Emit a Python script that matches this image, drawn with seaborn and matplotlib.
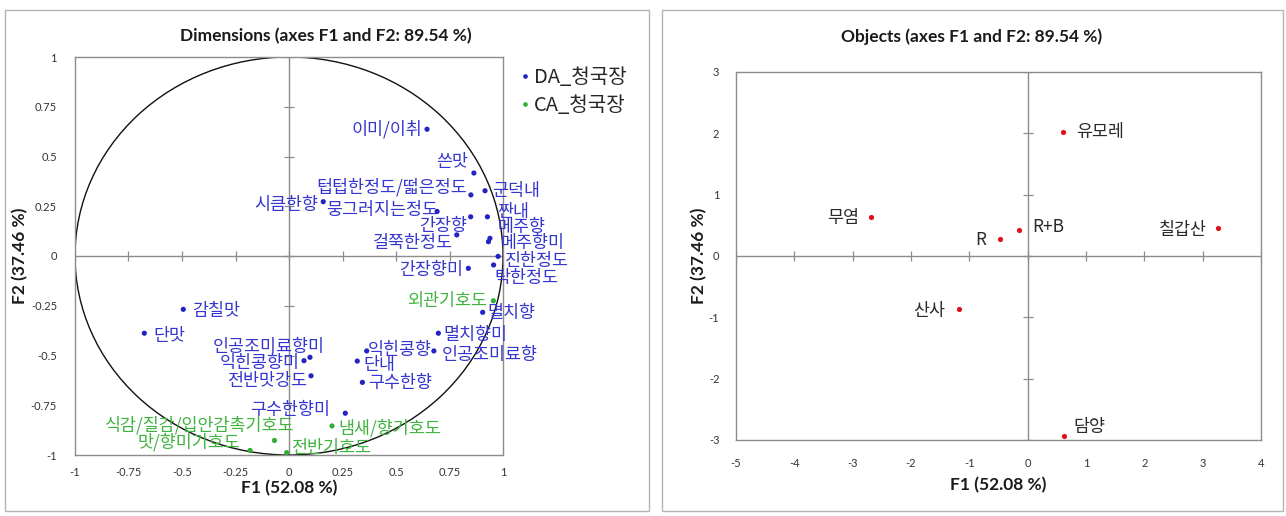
import matplotlib
matplotlib.use("Agg")
import matplotlib.pyplot as plt
from matplotlib.patches import Circle, Rectangle
import seaborn as sns
import pandas as pd

sns.set_theme(style="white")
plt.rcParams['font.family'] = ['Lato', 'Noto Sans CJK KR', 'DejaVu Sans']
plt.rcParams['axes.unicode_minus'] = False

# ---- variables (correlation circle) ----
da_names = ['이미/이취', '쓴맛', '텁텁한정도/떫은정도', '군덕내', '시큼한향', '뭉그러지는정도',
            '간장향', '짠내', '메주향', '걸쭉한정도', '메주향미', '진한정도', '간장향미',
            '탁한정도', '멸치향', '멸치향미', '익힌콩향', '인공조미료향', '단내', '구수한향',
            '감칠맛', '단맛', '인공조미료향미', '익힌콩향미', '전반맛강도', '구수한향미']
da_f1 = [0.645, 0.864, 0.850, 0.916, 0.160, 0.692, 0.849, 0.927, 0.939, 0.784, 0.932,
         0.977, 0.838, 0.956, 0.905, 0.698, 0.363, 0.677, 0.319, 0.343, -0.494, -0.676,
         0.098, 0.070, 0.103, 0.263]
da_f2 = [0.637, 0.417, 0.307, 0.328, 0.273, 0.224, 0.197, 0.197, 0.089, 0.106, 0.072,
         -0.002, -0.062, -0.045, -0.283, -0.388, -0.477, -0.477, -0.528, -0.635, -0.268,
         -0.388, -0.509, -0.526, -0.602, -0.790]

ca_names = ['외관기호도', '냄새/향기호도', '식감/질감/입안감촉기호도', '맛/향미기호도', '전반기호도']
ca_f1 = [0.955, 0.201, -0.068, -0.182, -0.011]
ca_f2 = [-0.225, -0.854, -0.927, -0.977, -0.988]

group_names = ['DA_청국장', 'CA_청국장']

# ---- objects (samples) ----
obj_names = ['유모레', '무염', 'R+B', 'R', '칠갑산', '산사', '담양']
obj_f1 = [0.60, -2.69, -0.15, -0.47, 3.26, -1.18, 0.62]
obj_f2 = [2.02, 0.63, 0.42, 0.28, 0.46, -0.87, -2.94]

# ---- axes ticks ----
var_ticks = [-1, -0.75, -0.5, -0.25, 0, 0.25, 0.5, 0.75, 1]
var_tick_labels = ['-1', '-0.75', '-0.5', '-0.25', '0', '0.25', '0.5', '0.75', '1']
obj_xticks = [-5, -4, -3, -2, -1, 0, 1, 2, 3, 4]
obj_xtick_labels = ['-5', '-4', '-3', '-2', '-1', '0', '1', '2', '3', '4']
obj_yticks = [-3, -2, -1, 0, 1, 2, 3]
obj_ytick_labels = ['-3', '-2', '-1', '0', '1', '2', '3']

title_vars = 'Dimensions (axes F1 and F2: 89.54 %)'
title_objs = 'Objects (axes F1 and F2: 89.54 %)'
xlabel = 'F1 (52.08 %)'
ylabel = 'F2 (37.46 %)'

# label placement: (dx px, dy px, horizontal alignment)
var_label_pos = {
    '이미/이취': (-5, 0, 'right'), '쓴맛': (-6, 11, 'right'),
    '텁텁한정도/떫은정도': (-4, 8, 'right'), '군덕내': (7, 0, 'left'),
    '시큼한향': (-5, -3, 'right'), '뭉그러지는정도': (1, 1, 'right'),
    '간장향': (-4, -9, 'right'), '짠내': (10, 5, 'left'),
    '메주향': (8, 11, 'left'), '걸쭉한정도': (-4, -8, 'right'),
    '메주향미': (12, -1, 'left'), '진한정도': (7, -5, 'left'),
    '간장향미': (-5, -2, 'right'), '탁한정도': (1, -13, 'left'),
    '멸치향': (5, -1, 'left'), '멸치향미': (5, -2, 'left'),
    '익힌콩향': (1, 1, 'left'), '인공조미료향': (8, -4, 'left'),
    '단내': (6, -4, 'left'), '구수한향': (6, -1, 'left'),
    '감칠맛': (9, -2, 'left'), '단맛': (9, -3, 'left'),
    '인공조미료향미': (15, 10, 'right'), '익힌콩향미': (-4, -2, 'right'),
    '전반맛강도': (-4, -5, 'right'), '구수한향미': (-15, 3, 'right'),
    '외관기호도': (-6, 0, 'right'), '냄새/향기호도': (6, -2, 'left'),
    '식감/질감/입안감촉기호도': (19, 15, 'right'), '맛/향미기호도': (-10, 8, 'right'),
    '전반기호도': (4, 5, 'left'),
}
obj_label_pos = {
    '유모레': (13, 0, 'left'), '무염': (-12, -1, 'right'), 'R+B': (13, 3, 'left'),
    'R': (-14, -1, 'right'), '칠갑산': (-11, -2, 'right'), '산사': (-14, -2, 'right'),
    '담양': (10, 9, 'left'),
}

BLUE = '#2323c4'
BLUE_TXT = '#3535cf'
GREEN = '#33ad33'
GREEN_TXT = '#3fb43f'
RED = '#e0101a'
AXIS_GRAY = '#8c8c8c'
KR = ['Noto Sans CJK KR', 'DejaVu Sans']
LABEL_SIZE = 12.5
PT = 0.72  # points per pixel at 100 dpi

W, H = 1286, 516
fig = plt.figure(figsize=(W / 100, H / 100), dpi=100)


def add_axes_px(left, top, right, bottom):
    return fig.add_axes([left / W, 1 - bottom / H, (right - left) / W, (bottom - top) / H])


def panel_frame(left, top, right, bottom):
    fig.patches.append(Rectangle((left / W, 1 - bottom / H), (right - left) / W,
                                 (bottom - top) / H, transform=fig.transFigure,
                                 fill=False, ec='#b4b4b4', lw=1.0))


def style_axes(ax, xt, xtl, yt, ytl, xpad, ypad):
    ax.set_xticks(xt, xtl)
    ax.set_yticks(yt, ytl)
    ax.tick_params(length=0, labelsize=8, colors='#333333')
    ax.tick_params(axis='x', pad=xpad)
    ax.tick_params(axis='y', pad=ypad)
    for s in ax.spines.values():
        s.set_color(AXIS_GRAY)
        s.set_linewidth(1.0)
    ax.grid(False)
    ax.axhline(0, color=AXIS_GRAY, lw=1.0, zorder=1)
    ax.axvline(0, color=AXIS_GRAY, lw=1.0, zorder=1)
    # cross ticks along the zero lines
    ax.plot(xt, [0] * len(xt), ls='none', marker='|', ms=7, mew=0.9, color=AXIS_GRAY, zorder=1)
    ax.plot([0] * len(yt), yt, ls='none', marker='_', ms=7, mew=0.9, color=AXIS_GRAY, zorder=1)
    ax.set_xlabel('')
    ax.set_ylabel('')


# ---------------- left panel: variables ----------------
panel_frame(5, 10, 649, 511)
ax1 = add_axes_px(75, 57, 503, 455)
ax1.set_xlim(-1, 1)
ax1.set_ylim(-1, 1)

vars_df = pd.DataFrame({
    'name': da_names + ca_names,
    'F1': da_f1 + ca_f1,
    'F2': da_f2 + ca_f2,
    'group': [group_names[0]] * len(da_names) + [group_names[1]] * len(ca_names),
})
ax1.add_patch(Circle((0, 0), 1, fill=False, ec='#111111', lw=1.0, zorder=2))
sns.scatterplot(data=vars_df, x='F1', y='F2', hue='group', hue_order=group_names,
                palette={group_names[0]: BLUE, group_names[1]: GREEN},
                s=14, linewidth=0, ax=ax1, zorder=4)
style_axes(ax1, var_ticks, var_tick_labels, var_ticks, var_tick_labels, 9, 13)

for _, row in vars_df.iterrows():
    dx, dy, ha = var_label_pos[row['name']]
    col = BLUE_TXT if row['group'] == group_names[0] else GREEN_TXT
    ax1.annotate(row['name'], (row['F1'], row['F2']), xytext=(dx * PT, dy * PT),
                 textcoords='offset points', ha=ha, va='center', color=col,
                 fontsize=LABEL_SIZE, family=KR, zorder=5)

handles, labels = ax1.get_legend_handles_labels()
ax1.legend(handles, labels, loc='upper left', bbox_to_anchor=(509 / W, 1 - 59 / H),
           bbox_transform=fig.transFigure, frameon=False,
           prop={'family': KR, 'size': 14.5}, handletextpad=0.05, labelspacing=0.35,
           handlelength=0.8, markerscale=0.9, borderaxespad=0)

ax1.set_title('')
fig.text(326 / W, 1 - 36 / H, title_vars, ha='center', va='center',
         fontsize=12.5, fontweight='bold', color='#1a1a1a')
ax1.text(0.5, -0.083, xlabel, transform=ax1.transAxes, ha='center', va='center',
         fontsize=12.5, fontweight='bold', color='#1a1a1a')
ax1.text(-0.128, 0.5, ylabel, transform=ax1.transAxes, ha='center', va='center',
         rotation=90, fontsize=12.5, fontweight='bold', color='#1a1a1a')

# ---------------- right panel: objects ----------------
panel_frame(662, 10, 1283, 511)
ax2 = add_axes_px(736, 72, 1261, 440)
ax2.set_xlim(-5, 4)
ax2.set_ylim(-3, 3)

obj_df = pd.DataFrame({'name': obj_names, 'F1': obj_f1, 'F2': obj_f2})
sns.scatterplot(data=obj_df, x='F1', y='F2', color=RED, s=14, linewidth=0,
                ax=ax2, zorder=4, legend=False)
style_axes(ax2, obj_xticks, obj_xtick_labels, obj_yticks, obj_ytick_labels, 13, 12)

for _, row in obj_df.iterrows():
    dx, dy, ha = obj_label_pos[row['name']]
    ax2.annotate(row['name'], (row['F1'], row['F2']), xytext=(dx * PT, dy * PT),
                 textcoords='offset points', ha=ha, va='center', color='#2a2a2a',
                 fontsize=LABEL_SIZE, family=KR, zorder=5)

fig.text(972 / W, 1 - 37 / H, title_objs, ha='center', va='center',
         fontsize=12.5, fontweight='bold', color='#1a1a1a')
ax2.text(0.5, -0.122, xlabel, transform=ax2.transAxes, ha='center', va='center',
         fontsize=12.5, fontweight='bold', color='#1a1a1a')
ax2.text(-0.07, 0.5, ylabel, transform=ax2.transAxes, ha='center', va='center',
         rotation=90, fontsize=12.5, fontweight='bold', color='#1a1a1a')

fig.savefig('out.png', dpi=100, facecolor='white')
